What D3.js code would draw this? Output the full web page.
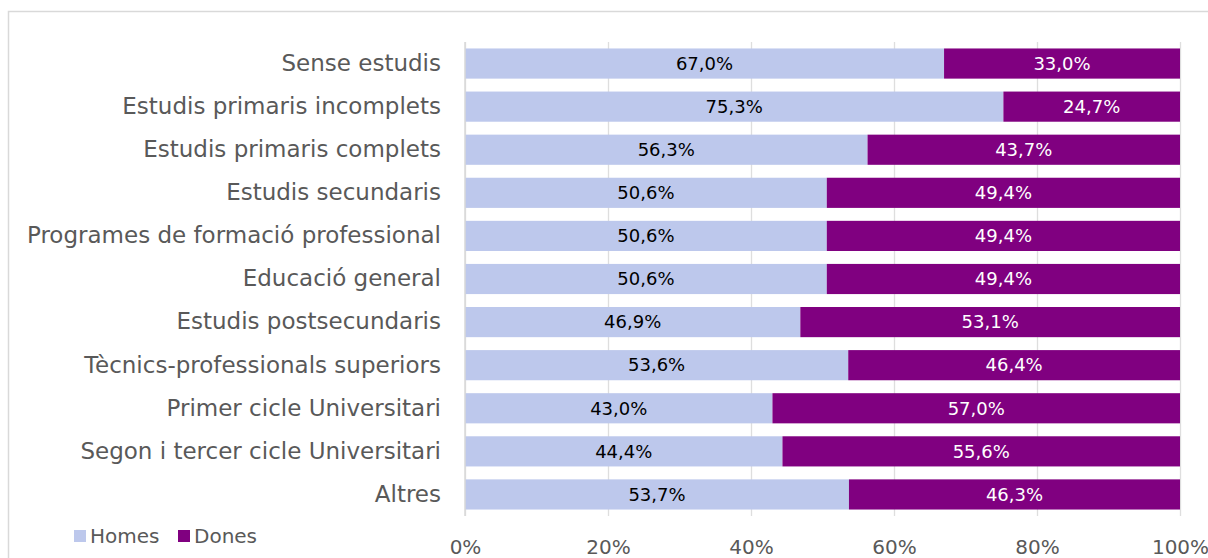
<!DOCTYPE html>
<html>
<head>
<meta charset="utf-8">
<script src="https://cdn.jsdelivr.net/npm/d3@7"></script>
<style>
  body { margin: 0; background: #fff; }
  svg { display: block; }
  text { font-family: "DejaVu Sans", sans-serif; }
</style>
</head>
<body>
<div id="wrapper"></div>
<script>
// categories, top to bottom
const categories = [
  "Sense estudis",
  "Estudis primaris incomplets",
  "Estudis primaris complets",
  "Estudis secundaris",
  "Programes de formació professional",
  "Educació general",
  "Estudis postsecundaris",
  "Tècnics-professionals superiors",
  "Primer cicle Universitari",
  "Segon i tercer cicle Universitari",
  "Altres"
]
const homes = [67.0, 75.3, 56.3, 50.6, 50.6, 50.6, 46.9, 53.6, 43.0, 44.4, 53.7]
const dones = [33.0, 24.7, 43.7, 49.4, 49.4, 49.4, 53.1, 46.4, 57.0, 55.6, 46.3]
const seriesNames = ["Homes", "Dones"]
const xTicks = [0, 20, 40, 60, 80, 100]

function drawBar() {
  const dimensions = {
    width: 1208,
    height: 558,
    margin: { top: 42, right: 28, bottom: 42, left: 465 },
  }
  dimensions.boundedWidth = dimensions.width - dimensions.margin.left - dimensions.margin.right
  dimensions.boundedHeight = dimensions.height - dimensions.margin.top - dimensions.margin.bottom

  const colors = { Homes: "#bdc8ec", Dones: "#800080" }

  const wrapper = d3.select("#wrapper")
    .append("svg")
    .attr("width", dimensions.width)
    .attr("height", dimensions.height)

  // chart border (runs off the right/bottom edge)
  wrapper.append("rect")
    .attr("x", 8.5).attr("y", 11.5)
    .attr("width", 1300).attr("height", 700)
    .attr("fill", "none")
    .attr("stroke", "#d9d9d9")
    .attr("stroke-width", 1.5)

  const bounds = wrapper.append("g")
    .attr("transform", `translate(${dimensions.margin.left}, ${dimensions.margin.top})`)

  const xScale = d3.scaleLinear()
    .domain([0, 100])
    .range([0, dimensions.boundedWidth])

  const yScale = d3.scaleBand()
    .domain(categories)
    .range([0, dimensions.boundedHeight])
    .paddingInner(0.3)
    .paddingOuter(0.15)

  // gridlines
  const grid = bounds.append("g")
    .call(d3.axisBottom(xScale).tickValues(xTicks).tickSize(dimensions.boundedHeight).tickFormat(""))
  grid.select(".domain").remove()
  grid.selectAll("line").attr("stroke", "#dedede").attr("stroke-width", 1.3)

  const rows = categories.map((c, i) => ({ cat: c, homes: homes[i], dones: dones[i] }))
  const stacked = d3.stack().keys(["homes", "dones"])(rows)

  const fmt = v => v.toFixed(1).replace(".", ",") + "%"

  const layers = bounds.selectAll(".layer")
    .data(stacked)
    .join("g")
    .attr("class", "layer")
    .attr("fill", (d, i) => colors[seriesNames[i]])

  layers.selectAll("rect")
    .data(d => d)
    .join("rect")
    .attr("x", d => xScale(d[0]))
    .attr("y", d => yScale(d.data.cat))
    .attr("width", d => xScale(d[1]) - xScale(d[0]))
    .attr("height", yScale.bandwidth())

  layers.selectAll("text")
    .data(d => d)
    .join("text")
    .attr("x", d => (xScale(d[0]) + xScale(d[1])) / 2)
    .attr("y", d => yScale(d.data.cat) + yScale.bandwidth() / 2)
    .attr("dy", "0.35em")
    .attr("text-anchor", "middle")
    .attr("font-size", 18)
    .attr("fill", (d, i, n) => d3.select(n[i].parentNode).datum().key === "homes" ? "#000" : "#fff")
    .text((d, i, n) => fmt(d.data[d3.select(n[i].parentNode).datum().key]))

  // left axis line
  bounds.append("line")
    .attr("x1", 0).attr("x2", 0)
    .attr("y1", 0).attr("y2", dimensions.boundedHeight)
    .attr("stroke", "#d9d9d9").attr("stroke-width", 1.5)

  // category labels
  const yAxis = bounds.append("g")
    .call(d3.axisLeft(yScale).tickSize(0).tickPadding(24))
  yAxis.select(".domain").remove()
  yAxis.selectAll("text")
    .attr("font-size", 23)
    .attr("fill", "#595959")
    .style("font-family", "'DejaVu Sans', sans-serif")

  // x axis labels
  const xAxis = bounds.append("g")
    .attr("transform", `translate(0, ${dimensions.boundedHeight})`)
    .call(d3.axisBottom(xScale).tickValues(xTicks).tickSize(0).tickPadding(24).tickFormat(d => d + "%"))
  xAxis.select(".domain").remove()
  xAxis.selectAll("text")
    .attr("font-size", 20)
    .attr("fill", "#595959")
    .style("font-family", "'DejaVu Sans', sans-serif")

  // legend
  const legend = wrapper.append("g")
    .attr("transform", "translate(74, 536)")
  const legendX = [0, 104]
  const items = legend.selectAll("g")
    .data(seriesNames)
    .join("g")
    .attr("transform", (d, i) => `translate(${legendX[i]}, 0)`)
  items.append("rect")
    .attr("x", 0).attr("y", -6)
    .attr("width", 12).attr("height", 12)
    .attr("fill", d => colors[d])
  items.append("text")
    .attr("x", 16)
    .attr("dy", "0.35em")
    .attr("font-size", 20)
    .attr("fill", "#595959")
    .text(d => d)
}

drawBar()
</script>
</body>
</html>
